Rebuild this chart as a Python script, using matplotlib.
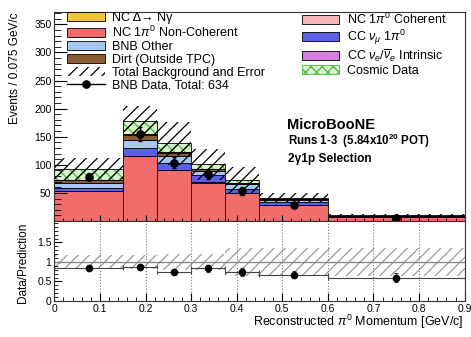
import matplotlib.pyplot as plt
import numpy as np
from matplotlib.lines import Line2D
from matplotlib.patches import Patch
from matplotlib.ticker import MultipleLocator

plt.rcParams['font.family'] = ['Liberation Sans', 'DejaVu Sans']
plt.rcParams['mathtext.fontset'] = 'custom'
plt.rcParams['mathtext.rm'] = 'Liberation Sans'
plt.rcParams['mathtext.it'] = 'Liberation Sans:italic'
plt.rcParams['mathtext.bf'] = 'Liberation Sans:bold'
plt.rcParams['hatch.linewidth'] = 0.9

bin_edges = [0.0, 0.15, 0.225, 0.3, 0.375, 0.45, 0.6, 0.9]

# predicted events per 0.075 GeV/c, stacked from the bottom up
nc_pi0_noncoh = [53.0, 116.0, 90.5, 68.5, 50.0, 28.0, 7.3]
nc_pi0_coh = [0.5, 0.5, 0.5, 0.3, 0.2, 0.1, 0.05]
cc_numu_pi0 = [4.5, 13.5, 11.5, 12.5, 7.5, 5.8, 1.2]
bnb_other = [9.5, 13.5, 13.0, 7.5, 7.5, 4.3, 0.8]
cc_nue = [0.5, 0.5, 0.5, 0.4, 0.3, 0.2, 0.1]
dirt = [4.5, 9.0, 5.5, 2.5, 1.5, 1.0, 0.2]
nc_delta = [1.0, 1.5, 0.5, 0.5, 0.3, 0.2, 0.1]
cosmic = [19.0, 24.0, 16.0, 8.5, 5.5, 2.2, 0.3]
total_err = [19.0, 27.0, 39.0, 27.0, 23.0, 8.0, 2.0]

# BNB data, raw counts per bin
data_counts = [157, 155, 104, 84, 54, 56, 24]

# fractional uncertainty shown on the ratio
ratio_band = [0.19, 0.19, 0.2, 0.2, 0.37, 0.37, 0.37]

edges = np.array(bin_edges)
left = edges[:-1]
width = np.diff(edges)
centers = left + width / 2
scale = width / 0.075

lbl_delta = 'NC Δ→ Nγ'
lbl_noncoh = r'NC 1$\pi^0$ Non-Coherent'
lbl_coh = r'NC 1$\pi^0$ Coherent'
lbl_numu = r'CC $\nu_\mu$ 1$\pi^0$'
lbl_nue = r'CC $\nu_e/\overline{\nu}_e$ Intrinsic'

layers = [
    (nc_pi0_noncoh, '#f06d6b', lbl_noncoh),
    (nc_pi0_coh, '#f6b9b9', lbl_coh),
    (cc_numu_pi0, '#5a5fe6', lbl_numu),
    (bnb_other, '#a6c8f2', 'BNB Other'),
    (cc_nue, '#d77fe0', lbl_nue),
    (dirt, '#8b5a2e', 'Dirt (Outside TPC)'),
    (nc_delta, '#f1c33a', lbl_delta),
]
cosmic_face = '#d9f3cc'
cosmic_hatch = '#4fb443'

data_norm = np.array(data_counts) / scale
data_err = np.sqrt(data_counts) / scale

fig = plt.figure(figsize=(4.71, 3.37), dpi=100)
ax = fig.add_axes([0.1153, 0.3442, 0.8713, 0.6202])
ax_r = fig.add_axes([0.1153, 0.1068, 0.8713, 0.2374])

# stacked prediction
bottom = np.zeros(len(left))
handles = {}
for values, color, label in layers:
    values = np.array(values)
    ax.bar(left, values, width, bottom=bottom, align='edge',
           color=color, edgecolor='black', linewidth=0.6)
    handles[label] = Patch(facecolor=color, edgecolor='black', linewidth=0.6)
    bottom = bottom + values

cosmic = np.array(cosmic)
ax.bar(left, cosmic, width, bottom=bottom, align='edge', facecolor=cosmic_face,
       edgecolor=cosmic_hatch, hatch='xxx', linewidth=0)
ax.bar(left, cosmic, width, bottom=bottom, align='edge', fill=False,
       edgecolor='black', linewidth=0.6)
total = bottom + cosmic

# total background uncertainty
total_err = np.array(total_err)
ax.bar(left, 2 * total_err, width, bottom=total - total_err, align='edge',
       fill=False, hatch='///', edgecolor='black', linewidth=0)

ax.errorbar(centers, data_norm, yerr=data_err, fmt='o', color='black',
            ms=5.2, elinewidth=1, capsize=1.5, capthick=1)

ax.set_xlim(0, 0.9)
ax.set_ylim(0, 372)
ax.set_yticks(np.arange(50, 351, 50))
ax.yaxis.set_minor_locator(MultipleLocator(10))
ax.xaxis.set_major_locator(MultipleLocator(0.1))
ax.xaxis.set_minor_locator(MultipleLocator(0.02))
ax.tick_params(axis='y', which='major', direction='in', length=9, width=0.8,
               labelsize=7.5, pad=2)
ax.tick_params(axis='y', which='minor', direction='in', length=5, width=0.6)
ax.tick_params(axis='x', which='both', direction='in', labelbottom=False)
ax.tick_params(axis='x', which='major', length=4)
ax.tick_params(axis='x', which='minor', length=2)

left_handles = [
    handles[lbl_delta],
    handles[lbl_noncoh],
    handles['BNB Other'],
    handles['Dirt (Outside TPC)'],
    Patch(facecolor='none', edgecolor='black', hatch='///', linewidth=0),
    Line2D([], [], color='black', marker='o', ms=5.2, lw=1),
]
left_labels = [lbl_delta, lbl_noncoh, 'BNB Other', 'Dirt (Outside TPC)',
               'Total Background and Error',
               'BNB Data, Total: %d' % sum(data_counts)]
right_handles = [
    handles[lbl_coh],
    handles[lbl_numu],
    handles[lbl_nue],
    Patch(facecolor=cosmic_face, edgecolor=cosmic_hatch, hatch='xxx', linewidth=0.6),
]
right_labels = [lbl_coh, lbl_numu, lbl_nue, 'Cosmic Data']

leg_kw = dict(frameon=False, fontsize=9, handlelength=3.0, handleheight=0.7,
              labelspacing=0.07, handletextpad=0.6, borderpad=0, borderaxespad=0,
              loc='upper left')
leg1 = ax.legend(left_handles, left_labels, bbox_to_anchor=(0.031, 1.0), **leg_kw)
ax.add_artist(leg1)
ax.legend(right_handles, right_labels, bbox_to_anchor=(0.603, 1.0), **leg_kw)

ax.text(0.566, 0.459, 'MicroBooNE', transform=ax.transAxes, fontsize=10.5,
        fontweight='bold', va='center')
ax.text(0.569, 0.383, r'Runs 1-3  (5.84x10$^{\mathbf{20}}$ POT)', transform=ax.transAxes,
        fontsize=8.3, fontweight='bold', va='center')
ax.text(0.569, 0.297, '2γ1p Selection', transform=ax.transAxes, fontsize=8.6,
        fontweight='bold', va='center')

# ratio panel
ratio = data_norm / total
ratio_err = data_err / total
ratio_band = np.array(ratio_band)
ax_r.bar(left, 2 * ratio_band, width, bottom=1 - ratio_band, align='edge',
         fill=False, hatch='///', edgecolor='#9a9a9a', linewidth=0)
ax_r.axhline(1, color='#8a8a8a', lw=1)
ax_r.errorbar(centers, ratio, xerr=width / 2, yerr=ratio_err, fmt='o',
              color='black', ecolor='#444444', ms=4.5, elinewidth=0.8,
              capsize=1.5, capthick=0.8)

ax_r.set_xlim(0, 0.9)
ax_r.set_ylim(0, 2.05)
ax_r.set_yticks([0, 0.5, 1, 1.5])
ax_r.set_yticklabels(['0', '0.5', '1', '1.5'])
ax_r.yaxis.set_minor_locator(MultipleLocator(0.1))
ax_r.set_xticks(np.arange(0, 0.91, 0.1))
ax_r.set_xticklabels(['0', '0.1', '0.2', '0.3', '0.4', '0.5', '0.6', '0.7', '0.8', '0.9'])
ax_r.xaxis.set_minor_locator(MultipleLocator(0.02))
ax_r.grid(axis='x', which='major', color='#777777', linestyle=':', lw=0.8)
ax_r.tick_params(which='both', direction='in', labelsize=7.5, pad=2)
ax_r.tick_params(which='major', length=6, width=0.8)
ax_r.tick_params(which='minor', length=3, width=0.6)

for a in (ax, ax_r):
    for s in a.spines.values():
        s.set_color('#333333')
        s.set_linewidth(0.8)

fig.text(15 / 471, 1 - 13 / 337, 'Events / 0.075 GeV/c', rotation=90,
         ha='center', va='top', fontsize=8.5)
fig.text(23 / 471, 1 - 263 / 337, 'Data/Prediction', rotation=90,
         ha='center', va='center', fontsize=8.5)
fig.text(464 / 471, 1 - 322 / 337, r'Reconstructed $\pi^0$ Momentum [GeV/c]',
         ha='right', va='center', fontsize=9)

fig.savefig('out.png', dpi=100)
